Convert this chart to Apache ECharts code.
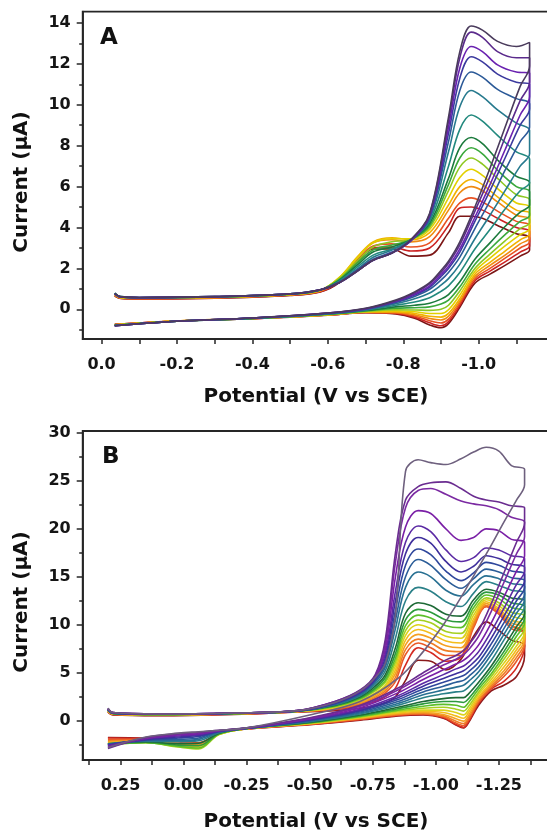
<!DOCTYPE html>
<html>
<head>
<meta charset="utf-8">
<script src="https://cdn.jsdelivr.net/npm/echarts@6/dist/echarts.min.js"></script>
<style>
html,body{margin:0;padding:0;background:#fff;overflow:hidden;width:547px;height:835px;}
#c{width:600px;height:835px;}
</style>
</head>
<body>
<div id="c"></div>
<script>
// ---------- Panel A data ----------
const potA_fwd = [-0.035,-0.05,-0.1,-0.3,-0.5,-0.58,-0.63,-0.68,-0.72,-0.77,-0.82,-0.87,-0.92,-0.95,-0.98,-1.01,-1.05,-1.1,-1.135];
const potA_rev = [-1.135,-1.11,-1.07,-1.03,-0.99,-0.95,-0.92,-0.9,-0.87,-0.83,-0.78,-0.7,-0.6,-0.4,-0.2,-0.035];
const curA_fwd = [
 [0.78,0.62,0.58,0.62,0.76,0.96,1.3,1.9,2.4,2.75,3.4,4.7,9.4,12.6,13.85,13.65,13.1,12.85,13.05],
 [0.76,0.61,0.58,0.62,0.76,0.96,1.3,1.9,2.4,2.75,3.4,4.65,9.2,12.3,13.55,13.3,12.6,12.3,12.3],
 [0.76,0.61,0.58,0.62,0.76,0.96,1.3,1.9,2.4,2.75,3.35,4.6,8.9,11.8,12.85,12.6,11.95,11.6,11.55],
 [0.75,0.6,0.57,0.61,0.75,0.95,1.3,1.9,2.4,2.75,3.35,4.55,8.6,11.3,12.35,12.1,11.5,11.1,11.0],
 [0.75,0.6,0.57,0.61,0.75,0.95,1.32,1.95,2.45,2.8,3.35,4.5,8.2,10.7,11.6,11.35,10.75,10.3,10.05],
 [0.8,0.62,0.58,0.62,0.76,0.96,1.35,2.0,2.55,2.9,3.4,4.4,7.7,9.9,10.7,10.4,9.75,9.1,8.75],
 [0.8,0.62,0.58,0.62,0.76,0.96,1.38,2.1,2.65,2.95,3.4,4.3,7.0,8.8,9.5,9.2,8.5,7.7,7.35],
 [0.78,0.61,0.57,0.61,0.75,0.95,1.42,2.2,2.8,3.05,3.4,4.2,6.4,7.9,8.4,8.1,7.3,6.5,6.2],
 [0.76,0.6,0.56,0.6,0.74,0.94,1.45,2.3,2.9,3.15,3.4,4.1,6.1,7.4,7.9,7.6,6.8,6.0,5.75],
 [0.74,0.59,0.55,0.6,0.74,0.94,1.5,2.4,3.05,3.3,3.42,4.0,5.8,6.95,7.4,7.1,6.4,5.6,5.35],
 [0.72,0.58,0.55,0.59,0.73,0.93,1.55,2.55,3.25,3.45,3.45,3.9,5.45,6.45,6.85,6.55,5.9,5.2,5.0],
 [0.72,0.57,0.54,0.58,0.72,0.92,1.55,2.6,3.3,3.5,3.4,3.75,5.1,6.0,6.35,6.1,5.5,4.85,4.7],
 [0.7,0.56,0.53,0.57,0.71,0.9,1.5,2.55,3.25,3.4,3.3,3.55,4.85,5.7,6.0,5.8,5.25,4.6,4.4],
 [0.68,0.55,0.52,0.56,0.7,0.88,1.4,2.45,3.1,3.2,3.05,3.25,4.45,5.2,5.45,5.25,4.8,4.3,4.1],
 [0.66,0.54,0.51,0.55,0.69,0.86,1.35,2.4,3.0,3.05,2.85,3.0,4.1,4.95,5.0,4.85,4.45,4.0,3.8],
 [0.65,0.53,0.5,0.54,0.68,0.85,1.3,2.35,2.95,2.95,2.6,2.65,3.75,4.55,4.55,4.45,4.1,3.7,3.5]
];
const curA_rev = [
 [11.9,10.9,8.9,6.9,5.0,3.3,2.35,1.9,1.3,0.85,0.45,0.05,-0.18,-0.42,-0.58,-0.8],
 [11.1,10.2,8.4,6.5,4.8,3.15,2.25,1.8,1.25,0.8,0.42,0.04,-0.18,-0.42,-0.58,-0.8],
 [10.4,9.5,7.8,6.1,4.5,2.95,2.1,1.7,1.15,0.74,0.4,0.03,-0.18,-0.42,-0.58,-0.8],
 [9.8,9.0,7.4,5.8,4.3,2.8,2.0,1.6,1.08,0.7,0.37,0.02,-0.19,-0.42,-0.58,-0.8],
 [8.9,8.2,6.8,5.3,3.95,2.55,1.8,1.43,0.98,0.63,0.33,0.0,-0.2,-0.43,-0.58,-0.8],
 [7.6,7.0,5.8,4.6,3.45,2.2,1.5,1.18,0.8,0.52,0.28,-0.02,-0.21,-0.43,-0.58,-0.79],
 [6.2,5.8,4.9,3.9,2.95,1.8,1.15,0.88,0.57,0.36,0.2,-0.04,-0.22,-0.44,-0.58,-0.79],
 [5.1,4.75,4.05,3.25,2.45,1.35,0.72,0.5,0.3,0.2,0.12,-0.06,-0.23,-0.44,-0.58,-0.78],
 [4.6,4.3,3.65,2.95,2.2,1.1,0.45,0.26,0.12,0.08,0.05,-0.08,-0.24,-0.45,-0.58,-0.78],
 [4.25,3.95,3.35,2.7,2.0,0.9,0.2,0.0,-0.05,-0.03,-0.02,-0.1,-0.25,-0.45,-0.58,-0.77],
 [3.95,3.65,3.1,2.5,1.85,0.7,-0.02,-0.2,-0.2,-0.12,-0.07,-0.12,-0.26,-0.45,-0.57,-0.76],
 [3.7,3.4,2.85,2.3,1.72,0.52,-0.2,-0.38,-0.34,-0.2,-0.11,-0.13,-0.27,-0.45,-0.57,-0.75],
 [3.5,3.2,2.65,2.15,1.6,0.4,-0.34,-0.52,-0.45,-0.27,-0.15,-0.14,-0.27,-0.45,-0.57,-0.75],
 [3.3,3.0,2.5,2.0,1.5,0.3,-0.48,-0.67,-0.56,-0.33,-0.18,-0.15,-0.28,-0.46,-0.57,-0.74],
 [3.1,2.8,2.32,1.87,1.4,0.2,-0.6,-0.8,-0.66,-0.38,-0.2,-0.15,-0.28,-0.46,-0.57,-0.74],
 [2.9,2.6,2.15,1.72,1.28,0.1,-0.7,-0.9,-0.76,-0.43,-0.22,-0.16,-0.29,-0.46,-0.57,-0.73]
];
const colorsA = ['#4a3b5c','#5b2b8c','#6a22b0','#3c3a9e','#2c5a98','#277a8e','#22897e','#1b7a3c','#3aa83c','#8ec822','#e2d000','#f2b200','#f08a12','#e85222','#cc2222','#7c1616'];

// ---------- Panel B data ----------
const potB_fwd = [0.3,0.28,0.1,-0.2,-0.45,-0.6,-0.7,-0.76,-0.8,-0.84,-0.88,-0.93,-0.98,-1.04,-1.1,-1.15,-1.2,-1.25,-1.3,-1.352];
const potB_rev = [-1.352,-1.32,-1.27,-1.22,-1.17,-1.13,-1.11,-1.08,-1.03,-0.95,-0.85,-0.7,-0.5,-0.25,-0.14,-0.06,0.02,0.15,0.3];
const curB_fwd = [
 [1.3,0.85,0.7,0.8,1.05,1.9,3.1,4.5,6.0,11.0,26.0,27.2,26.9,26.7,27.3,28.0,28.5,28.1,26.6,26.2],
 [1.3,0.85,0.7,0.8,1.05,2.0,3.2,4.8,8.5,17.5,23.0,24.4,24.8,24.9,24.2,23.4,23.0,22.8,22.4,22.2],
 [1.25,0.85,0.7,0.8,1.05,2.0,3.15,4.7,8.0,16.5,22.2,24.0,24.2,23.6,22.9,22.6,22.4,22.0,21.2,20.7],
 [1.25,0.85,0.7,0.8,1.05,1.95,3.1,4.6,7.5,15.0,20.2,21.9,21.6,20.0,18.8,19.1,20.0,19.8,18.9,18.6],
 [1.2,0.8,0.7,0.8,1.03,1.9,3.0,4.5,7.0,13.5,18.6,20.3,19.7,17.8,16.6,17.0,18.0,17.8,17.2,16.9],
 [1.2,0.8,0.7,0.8,1.03,1.85,2.95,4.4,6.6,12.5,17.4,19.1,18.5,16.6,15.5,16.1,17.2,16.9,16.3,16.0],
 [1.2,0.8,0.68,0.78,1.02,1.8,2.9,4.3,6.2,11.5,16.2,17.9,17.3,15.6,14.6,15.4,16.5,16.2,15.6,15.3],
 [1.15,0.78,0.68,0.78,1.02,1.75,2.8,4.15,5.9,10.5,15.0,16.8,16.2,14.7,13.8,14.8,15.8,15.5,14.9,14.6],
 [1.15,0.78,0.67,0.77,1.01,1.7,2.7,4.0,5.6,9.6,13.9,15.5,15.0,13.6,13.0,14.2,15.1,14.8,14.3,14.0],
 [1.15,0.78,0.67,0.77,1.0,1.65,2.6,3.8,5.2,8.6,12.5,13.9,13.5,12.4,11.9,13.3,14.5,14.1,13.6,13.3],
 [1.1,0.75,0.65,0.76,1.0,1.6,2.5,3.6,4.8,7.6,11.2,12.3,12.0,11.1,10.9,12.6,13.7,13.4,12.8,12.5],
 [1.1,0.75,0.65,0.76,1.0,1.55,2.4,3.4,4.5,7.0,10.5,11.6,11.3,10.5,10.3,12.2,13.4,13.1,12.3,11.9],
 [1.1,0.75,0.64,0.75,0.99,1.5,2.3,3.25,4.2,6.5,9.9,11.0,10.7,9.9,9.7,11.8,13.1,12.7,11.8,11.4],
 [1.05,0.72,0.63,0.74,0.98,1.45,2.2,3.1,4.0,6.1,9.4,10.5,10.2,9.3,9.1,11.4,12.8,12.3,11.3,10.9],
 [1.05,0.72,0.62,0.73,0.97,1.4,2.1,2.9,3.7,5.7,8.9,10.0,9.6,8.8,8.6,11.0,12.6,12.0,10.9,10.4],
 [1.0,0.7,0.6,0.72,0.96,1.35,2.0,2.75,3.5,5.3,8.4,9.5,9.1,8.3,8.1,10.6,12.4,11.7,10.5,10.0],
 [1.0,0.7,0.6,0.72,0.95,1.3,1.9,2.6,3.3,4.9,7.9,9.0,8.6,7.8,7.6,10.3,12.2,11.5,10.2,9.7],
 [0.95,0.68,0.58,0.7,0.94,1.25,1.8,2.45,3.1,4.5,7.4,8.5,8.1,7.3,7.2,10.0,12.0,11.3,9.9,9.4],
 [0.95,0.68,0.58,0.7,0.93,1.2,1.7,2.3,2.9,4.1,6.9,8.1,7.6,6.8,6.8,9.7,11.9,11.1,9.6,9.1],
 [0.9,0.62,0.55,0.68,0.92,1.15,1.55,2.0,2.5,3.4,5.8,7.6,7.1,6.2,6.6,10.0,11.9,11.2,9.9,9.1],
 [0.9,0.6,0.52,0.65,0.9,1.05,1.3,1.55,1.85,2.5,4.2,6.3,6.2,5.3,6.4,8.8,10.3,9.4,8.4,7.9]
];
const curB_rev = [
 [24.6,23.0,20.7,18.3,16.0,14.2,13.3,12.0,10.0,7.2,4.4,2.0,0.6,-0.75,-1.0,-1.15,-1.3,-1.7,-2.8],
 [20.6,18.6,15.4,12.2,9.4,7.9,7.3,6.8,6.2,5.0,3.4,1.6,0.3,-0.75,-1.0,-1.2,-1.35,-1.75,-2.9],
 [19.2,17.4,14.4,11.4,8.8,7.4,6.9,6.4,5.8,4.7,3.2,1.5,0.25,-0.76,-1.02,-1.25,-1.4,-1.8,-2.8],
 [17.2,15.6,12.9,10.2,7.9,6.7,6.3,5.9,5.3,4.3,2.9,1.35,0.2,-0.77,-1.05,-1.35,-1.5,-1.85,-2.7],
 [15.6,14.2,11.7,9.3,7.2,6.1,5.7,5.4,4.8,3.9,2.6,1.2,0.15,-0.78,-1.08,-1.45,-1.6,-1.9,-2.6],
 [14.6,13.2,10.9,8.6,6.6,5.6,5.2,4.9,4.4,3.6,2.4,1.1,0.1,-0.78,-1.1,-1.55,-1.7,-1.95,-2.6],
 [13.9,12.5,10.2,8.0,6.1,5.1,4.7,4.45,4.0,3.3,2.2,1.0,0.05,-0.79,-1.12,-1.65,-1.8,-2.0,-2.5],
 [13.2,11.8,9.6,7.4,5.6,4.6,4.2,4.0,3.6,3.0,2.0,0.9,0.0,-0.8,-1.15,-1.8,-1.95,-2.05,-2.5],
 [12.6,11.2,9.0,6.9,5.1,4.1,3.7,3.5,3.2,2.7,1.8,0.8,-0.05,-0.8,-1.2,-1.95,-2.1,-2.1,-2.45],
 [11.9,10.5,8.4,6.3,4.6,3.5,3.1,3.0,2.8,2.4,1.6,0.7,-0.1,-0.8,-1.25,-2.1,-2.2,-2.15,-2.4],
 [11.2,9.8,7.7,5.7,4.0,2.8,2.4,2.4,2.3,2.0,1.4,0.6,-0.15,-0.81,-1.3,-2.35,-2.4,-2.2,-2.4],
 [10.7,9.3,7.2,5.3,3.6,2.3,1.9,2.0,2.0,1.75,1.25,0.52,-0.2,-0.82,-1.35,-2.6,-2.55,-2.25,-2.45],
 [10.2,8.8,6.8,4.9,3.3,1.9,1.4,1.6,1.7,1.5,1.1,0.45,-0.22,-0.82,-1.4,-2.85,-2.7,-2.3,-2.5],
 [9.7,8.3,6.4,4.6,3.0,1.5,1.0,1.2,1.4,1.3,1.0,0.4,-0.25,-0.83,-1.45,-2.95,-2.75,-2.3,-2.5],
 [9.2,7.8,6.0,4.3,2.75,1.15,0.6,0.85,1.1,1.1,0.9,0.35,-0.28,-0.83,-1.45,-2.85,-2.7,-2.25,-2.4],
 [8.8,7.4,5.6,4.0,2.5,0.85,0.25,0.5,0.85,0.95,0.8,0.3,-0.3,-0.84,-1.42,-2.7,-2.6,-2.2,-2.3],
 [8.5,7.0,5.2,3.8,2.3,0.55,-0.05,0.2,0.65,0.85,0.72,0.25,-0.32,-0.84,-1.4,-2.55,-2.45,-2.1,-2.2],
 [8.2,6.6,4.9,3.6,2.1,0.3,-0.3,-0.05,0.5,0.75,0.65,0.2,-0.35,-0.85,-1.38,-2.45,-2.35,-2.05,-2.1],
 [7.9,6.2,4.6,3.4,1.95,0.1,-0.5,-0.25,0.4,0.7,0.6,0.15,-0.37,-0.85,-1.35,-2.35,-2.2,-1.95,-1.95],
 [7.7,5.5,4.1,3.3,1.8,-0.1,-0.7,-0.4,0.3,0.65,0.55,0.1,-0.4,-0.86,-1.32,-2.3,-2.05,-1.85,-1.8],
 [6.8,4.6,3.7,3.1,1.6,-0.2,-0.75,-0.45,0.25,0.6,0.5,0.05,-0.42,-0.86,-1.3,-2.6,-2.2,-1.85,-1.75]
];
const colorsB = ['#6e607e','#6a2c90','#7b2aa2','#7a1fa6','#5b2aa4','#3f2f9c','#2f479c','#2b5d98','#287092','#2a8088','#1e6a36','#2c9a3c','#5cbf2a','#a6d020','#dcd21a','#f3bd1c','#f4a021','#f07d24','#ea5a28','#d42a22','#8a1a1c'];

// ---------- Tick / label values ----------
const ticksXA = [0,-0.1,-0.2,-0.3,-0.4,-0.5,-0.6,-0.7,-0.8,-0.9,-1.0,-1.1];
const labelsXA = [0,-0.2,-0.4,-0.6,-0.8,-1.0];
const labelsYA = [0,2,4,6,8,10,12,14];
const minorYA = [-1,1,3,5,7,9,11,13];
const ticksXB = [0.375,0.25,0.125,0,-0.125,-0.25,-0.375,-0.5,-0.625,-0.75,-0.875,-1.0,-1.125,-1.25,-1.375];
const labelsXB = [0.25,0,-0.25,-0.5,-0.75,-1.0,-1.25];
const labelsYB = [0,5,10,15,20,25,30];
const minorYB = [-2.5,2.5,7.5,12.5,17.5,22.5,27.5];

const FONT = 'DejaVu Sans';
const AX = '#262626';

function curve(pf, cf, pr, cr) {
  const d = [];
  for (let i = 0; i < pf.length; i++) d.push([pf[i], cf[i]]);
  for (let i = 0; i < pr.length; i++) d.push([pr[i], cr[i]]);
  return d;
}

const series = [];
for (let k = curA_fwd.length - 1; k >= 0; k--) {
  series.push({type:'line', xAxisIndex:0, yAxisIndex:0, showSymbol:false, symbol:'none', smooth:0.35,
    data: curve(potA_fwd, curA_fwd[k], potA_rev, curA_rev[k]),
    lineStyle:{color:colorsA[k], width:1.6}, silent:true});
}
for (let k = curB_fwd.length - 1; k >= 0; k--) {
  series.push({type:'line', xAxisIndex:1, yAxisIndex:2, showSymbol:false, symbol:'none', smooth:0.35,
    data: curve(potB_fwd, curB_fwd[k], potB_rev, curB_rev[k]),
    lineStyle:{color:colorsB[k], width:1.6}, silent:true});
}

const lblStyle = {fontFamily:FONT, fontWeight:'bold', fontSize:16, color:'#151515'};

function xAx(grid, min, max, ticks, labels, dec) {
  return {gridIndex:grid, type:'value', inverse:true, min:min, max:max,
    axisLine:{show:true, onZero:false, lineStyle:{color:AX, width:1.8}},
    axisTick:{show:true, inside:false, length:5, customValues:ticks, lineStyle:{color:AX, width:1.5}},
    axisLabel:Object.assign({show:true, margin:18, customValues:labels, formatter:v=>Number(v).toFixed(dec)}, lblStyle),
    splitLine:{show:false}};
}
function yAx(grid, min, max, labels) {
  return {gridIndex:grid, type:'value', min:min, max:max, position:'left',
    axisLine:{show:true, onZero:false, lineStyle:{color:AX, width:1.8}},
    axisTick:{show:true, inside:false, length:6, customValues:labels, lineStyle:{color:AX, width:1.5}},
    axisLabel:Object.assign({show:true, margin:12, customValues:labels, formatter:v=>String(v)}, lblStyle),
    splitLine:{show:false}};
}
function yMinor(grid, min, max, vals) {
  return {gridIndex:grid, type:'value', min:min, max:max, position:'left', offset:0,
    axisLine:{show:false, onZero:false},
    axisTick:{show:true, inside:false, length:3.5, customValues:vals, lineStyle:{color:AX, width:1.5}},
    axisLabel:{show:false}, splitLine:{show:false}};
}

const chart = echarts.init(document.getElementById('c'), null, {renderer:'canvas'});
const titleFont = 'bold 20px "DejaVu Sans"';
chart.setOption({
  animation:false,
  backgroundColor:'#ffffff',
  grid:[
    {left:82.7, top:11.7, width:471.4, height:327.3, show:true, borderColor:AX, borderWidth:1.8, backgroundColor:'transparent'},
    {left:82.7, top:431, width:479.2, height:329, show:true, borderColor:AX, borderWidth:1.8, backgroundColor:'transparent'}
  ],
  xAxis:[
    xAx(0, -1.2, 0.05, ticksXA, labelsXA, 1),
    xAx(1, -1.5, 0.4, ticksXB, labelsXB, 2)
  ],
  yAxis:[
    yAx(0, -1.45, 14.55, labelsYA),
    yMinor(0, -1.45, 14.55, minorYA),
    yAx(1, -4.1, 30.2, labelsYB),
    yMinor(1, -4.1, 30.2, minorYB)
  ],
  series:series,
  graphic:[
    {type:'text', left:100, top:27, style:{text:'A', font:'bold 23px "DejaVu Sans"', fill:'#111'}},
    {type:'text', left:102, top:446, style:{text:'B', font:'bold 23px "DejaVu Sans"', fill:'#111'}},
    {type:'text', x:316, y:397, style:{text:'Potential (V vs SCE)', font:titleFont, fill:'#111', align:'center', verticalAlign:'middle', textAlign:'center', textVerticalAlign:'middle'}},
    {type:'text', x:316, y:822, style:{text:'Potential (V vs SCE)', font:titleFont, fill:'#111', align:'center', verticalAlign:'middle', textAlign:'center', textVerticalAlign:'middle'}},
    {type:'text', x:22, y:182, rotation:Math.PI/2, style:{text:'Current (μA)', font:titleFont, fill:'#111', align:'center', verticalAlign:'middle', textAlign:'center', textVerticalAlign:'middle'}},
    {type:'text', x:22, y:602, rotation:Math.PI/2, style:{text:'Current (μA)', font:titleFont, fill:'#111', align:'center', verticalAlign:'middle', textAlign:'center', textVerticalAlign:'middle'}}
  ]
});
</script>
</body>
</html>
